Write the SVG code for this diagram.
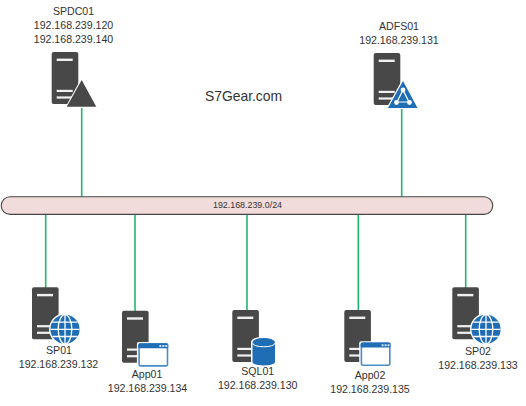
<svg xmlns="http://www.w3.org/2000/svg" width="526" height="406" viewBox="0 0 526 406">
<style>
text{font-family:"Liberation Sans",Arial,sans-serif;font-size:10.6px;fill:#333;text-anchor:middle}
.link{stroke:#22b86c;stroke-width:1.6;fill:none}
.bl{fill:#1f6db5}
.wl{stroke:#fff;fill:none}
</style>
<defs>
<g id="server">
<rect width="26.6" height="52" rx="2" fill="#484848"/>
<rect x="5" y="6.6" width="16" height="2.4" fill="#fff" fill-opacity=".92"/>
<rect x="5" y="37.8" width="16" height="2.2" fill="#fff" fill-opacity=".92"/>
<rect x="5" y="44.4" width="16" height="2.2" fill="#fff" fill-opacity=".92"/>
</g>
<g id="globe">
<circle r="16" fill="#fff"/>
<circle r="14.6" class="bl"/>
<g class="wl" stroke-width="1.3">
<ellipse rx="6.8" ry="14.6"/>
<path d="M0-14.6V14.6M-14.6 0H14.6M-12.6-7.2H12.6M-12.6 7.2H12.6"/>
</g>
</g>
<g id="window">
<rect x="-1.4" y="-1.4" width="32.8" height="26.2" rx="2" fill="#fff"/>
<rect x=".8" y=".8" width="28.4" height="21.8" rx="1.5" fill="#fff" stroke="#4a8ccb" stroke-width="1.6"/>
<rect width="30" height="5" rx="1.5" fill="#1f6db5"/>
<path d="M21 1.6h2v2h-2zM24 1.6h2v2h-2zM27 1.6h2v2h-2z" fill="#cfe2f3"/>
</g>
</defs>
<g id="connectors">
<path class="link" d="M81.7 106V197M401.7 108V197M45.7 214V288M135 214V311M247 214V310M358.3 214V310M465.7 214V288"/>
</g>
<g id="network">
<rect x="1.2" y="196.8" width="491.6" height="17.6" rx="8.8" fill="#f2dcdb" stroke="#444" stroke-width="1.1"/>
<text x="247.500" y="208" style="font-size:8.9px">192.168.239.0/24</text>
</g>
<text id="site" x="243.500" y="101" style="font-size:13.9px">S7Gear.com</text>
<g id="SPDC01">
<use href="#server" x="51.7" y="52"/>
<path d="M81.7 77.500L98 108H65Z" fill="#fff"/>
<path d="M81.7 80L96.3 106.700H66.700Z" fill="#484848"/>
<text x="73.500" y="15">SPDC01</text>
<text x="73.500" y="29">192.168.239.120</text>
<text x="73.500" y="43">192.168.239.140</text>
</g>
<g id="ADFS01">
<use href="#server" x="373.700" y="53"/>
<path d="M403 78.500L419.300 109H386Z" fill="#fff"/>
<path d="M403 81L417.500 108H388Z" class="bl"/>
<path d="M403 90L397 102H409ZM397 102" fill="none" stroke="#fff" stroke-width="1.200"/>
<circle cx="403" cy="90" r="2.400" fill="#fff"/>
<circle cx="396.500" cy="102.500" r="2.400" fill="#fff"/>
<circle cx="409.500" cy="102.500" r="2.400" fill="#fff"/>
<text x="399" y="29.500">ADFS01</text>
<text x="399" y="44">192.168.239.131</text>
</g>
<g id="SP01">
<use href="#server" x="32" y="287.300"/>
<use href="#globe" x="65" y="329.300"/>
<text x="59" y="354">SP01</text>
<text x="58.500" y="368">192.168.239.132</text>
</g>
<g id="App01">
<use href="#server" x="122" y="310.700"/>
<use href="#window" x="138.300" y="343.300"/>
<text x="147" y="378">App01</text>
<text x="147.500" y="392">192.168.239.134</text>
</g>
<g id="SQL01">
<use href="#server" x="232.300" y="310"/>
<path d="M251 342c0-7 25.500-7 25.500 0v20c0 5-25.500 5-25.500 0Z" fill="#fff"/>
<path d="M252.500 343v19c0 4.500 22.500 4.500 22.500 0V343Z" class="bl"/>
<ellipse cx="263.700" cy="342.500" rx="11.300" ry="4.500" class="bl"/>
<path d="M252.500 343c0 5 22.500 5 22.500 0" class="wl" stroke-width="1"/>
<text x="257.700" y="375">SQL01</text>
<text x="257.700" y="389">192.168.239.130</text>
</g>
<g id="App02">
<use href="#server" x="344.300" y="310"/>
<use href="#window" x="360.600" y="342.600"/>
<text x="370" y="379">App02</text>
<text x="370" y="393">192.168.239.135</text>
</g>
<g id="SP02">
<use href="#server" x="452.300" y="287.300"/>
<use href="#globe" x="486" y="329.300"/>
<text x="478" y="355">SP02</text>
<text x="478" y="369">192.168.239.133</text>
</g>
</svg>
